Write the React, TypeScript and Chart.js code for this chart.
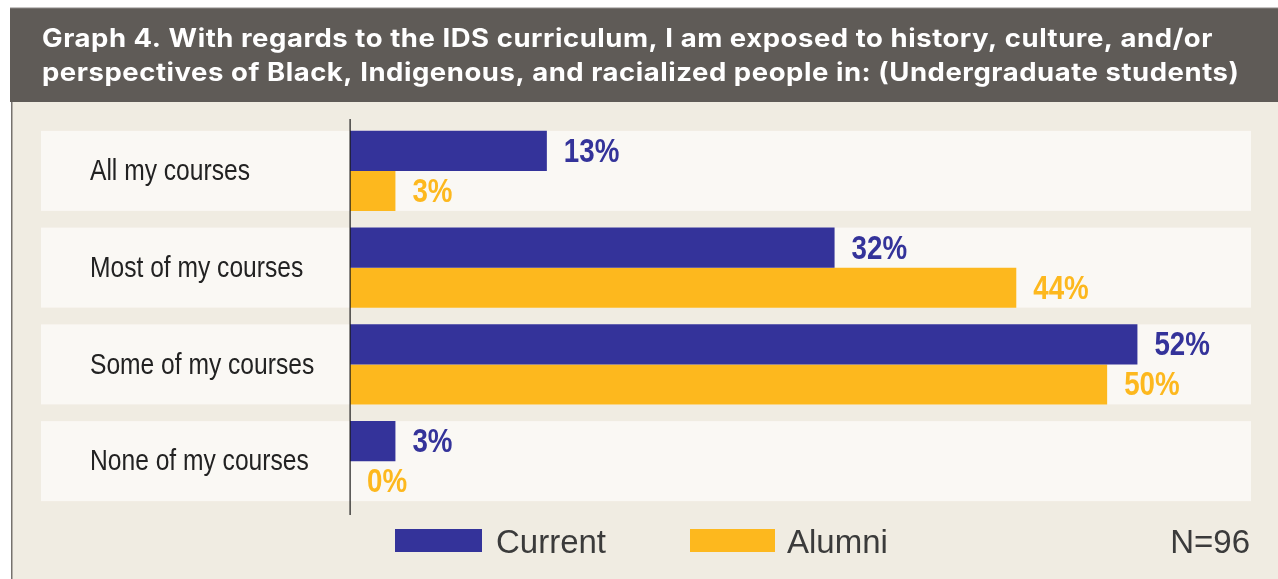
import React, { useEffect, useRef } from "react";
import { Chart, registerables } from "chart.js";

Chart.register(...registerables);

const categories = ["All my courses", "Most of my courses", "Some of my courses", "None of my courses"];
const currentValues = [13, 32, 52, 3];
const alumniValues = [3, 44, 50, 0];
const seriesNames = ["Current", "Alumni"];
const titleLines = [
  "Graph 4. With regards to the IDS curriculum, I am exposed to history, culture, and/or",
  "perspectives of Black, Indigenous, and racialized people in: (Undergraduate students)",
];
const sampleNote = "N=96";

const NAVY = "#34339a";
const AMBER = "#fdb81e";
const SANS = "'Liberation Sans', Arial, sans-serif";
const TITLE_FONT = "Inter, 'Liberation Sans', sans-serif";

function narrowText(ctx: any, text: string, x: number, y: number, sx: number, align: string) {
  ctx.save();
  ctx.translate(x, y);
  ctx.scale(sx, 1);
  ctx.textAlign = align;
  ctx.fillText(text, 0, 0);
  ctx.restore();
}

const decor = {
  id: "decor",
  beforeDraw(chart: any) {
    const { ctx, width, height } = chart;
    const y = chart.scales.y;
    ctx.save();
    ctx.fillStyle = "#ffffff";
    ctx.fillRect(0, 0, width, height);
    // panel
    ctx.fillStyle = "#f0ece2";
    ctx.fillRect(12, 102, width - 12, height - 102);
    ctx.fillStyle = "#76726e";
    ctx.fillRect(11, 102, 1.5, height - 102);
    // title band
    ctx.fillStyle = "#5f5b57";
    ctx.fillRect(10, 8, width - 10, 94);
    ctx.fillStyle = "#8d8a87";
    ctx.fillRect(10, 7.5, width - 10, 1);
    ctx.fillStyle = "#ffffff";
    ctx.font = `bold 25.5px ${TITLE_FONT}`;
    ctx.textBaseline = "alphabetic";
    ctx.textAlign = "left";
    try { ctx.letterSpacing = "0.5px"; } catch (e) {}
    const w0 = ctx.measureText(titleLines[0]).width;
    const sx = Math.min(1.15, Math.max(0.9, 1171 / w0));
    narrowText(ctx, titleLines[0], 42, 47, sx, "left");
    narrowText(ctx, titleLines[1], 42, 81, sx, "left");
    try { ctx.letterSpacing = "0px"; } catch (e) {}
    // row backgrounds
    ctx.fillStyle = "#faf8f4";
    categories.forEach((_, i) => {
      const cy = y.getPixelForValue(i);
      ctx.fillRect(41, cy - 40, 1251 - 41, 80);
    });
    // category labels
    ctx.fillStyle = "#222222";
    ctx.font = `30px ${SANS}`;
    ctx.textBaseline = "middle";
    categories.forEach((c, i) => {
      const cy = y.getPixelForValue(i);
      narrowText(ctx, c, 90, cy + 1, 0.82, "left");
    });
    // legend
    ctx.textBaseline = "alphabetic";
    const lg = [
      { name: seriesNames[0], color: NAVY, bx: 395, bw: 87, tx: 496 },
      { name: seriesNames[1], color: AMBER, bx: 690, bw: 85, tx: 787 },
    ];
    ctx.font = `33px ${SANS}`;
    lg.forEach((l) => {
      ctx.fillStyle = l.color;
      ctx.fillRect(l.bx, 529, l.bw, 23);
      ctx.fillStyle = "#3b3b3b";
      ctx.textAlign = "left";
      ctx.fillText(l.name, l.tx, 553);
    });
    ctx.textAlign = "right";
    ctx.fillText(sampleNote, 1250, 553);
    ctx.restore();
  },
  afterDatasetsDraw(chart: any) {
    const { ctx } = chart;
    ctx.save();
    ctx.fillStyle = "#1a1a1a";
    ctx.fillRect(349.5, 119, 1.2, 396);
    ctx.font = `bold 33px ${SANS}`;
    ctx.textBaseline = "middle";
    chart.data.datasets.forEach((ds: any, di: number) => {
      const meta = chart.getDatasetMeta(di);
      meta.data.forEach((bar: any, i: number) => {
        ctx.fillStyle = ds.backgroundColor;
        narrowText(ctx, `${ds.data[i]}%`, bar.x + 17, bar.y + 2, 0.84, "left");
      });
    });
    ctx.restore();
  },
};

export default function App() {
  const ref = useRef<HTMLCanvasElement | null>(null);
  useEffect(() => {
    if (!ref.current) return;
    const chart = new Chart(ref.current, {
      type: "bar",
      data: {
        labels: categories,
        datasets: [
          { label: seriesNames[0], data: currentValues, backgroundColor: NAVY, barPercentage: 1, categoryPercentage: 0.827 },
          { label: seriesNames[1], data: alumniValues, backgroundColor: AMBER, barPercentage: 1, categoryPercentage: 0.827 },
        ],
      },
      options: {
        indexAxis: "y",
        responsive: false,
        animation: false,
        layout: { padding: { left: 90, right: 27, top: 122.5, bottom: 69.5 } },
        scales: {
          x: { min: 0, max: 59.5, display: false },
          y: {
            position: "left",
            grid: { display: false },
            border: { display: false },
            ticks: { display: false },
            afterFit: (s: any) => { s.width = 260; },
          },
        },
        plugins: { legend: { display: false }, tooltip: { enabled: false } },
      },
      plugins: [decor],
    });
    return () => chart.destroy();
  }, []);
  return (
    <div style={{ position: "absolute", left: 0, top: 0, width: 1278, height: 579 }}>
      <canvas ref={ref} width={1278} height={579} style={{ display: "block" }} />
    </div>
  );
}
